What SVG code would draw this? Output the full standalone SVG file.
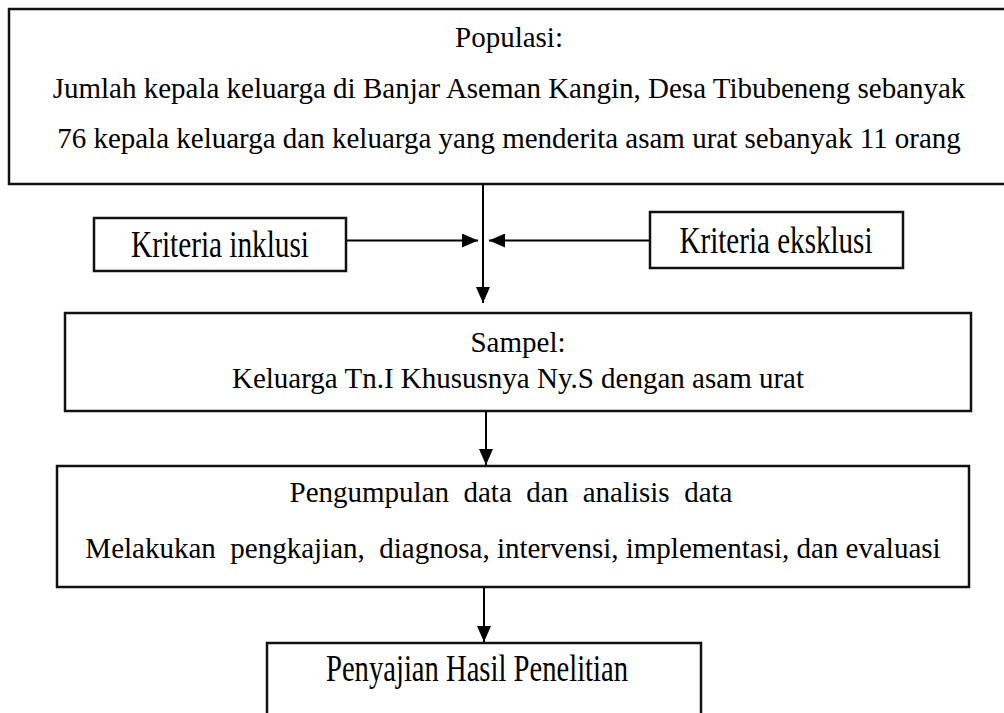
<svg xmlns="http://www.w3.org/2000/svg" width="1004" height="713" viewBox="0 0 1004 713">
  <style>
    .box { fill: #ffffff; stroke: #111111; stroke-width: 2.5; }
    .t { font-family: "Liberation Serif", "Times New Roman", serif; font-size: 29px; fill: #000000; text-anchor: middle; }
    .tc { font-family: "Liberation Serif", "Times New Roman", serif; font-size: 37px; fill: #000000; text-anchor: middle; }
    .conn { stroke: #000000; stroke-width: 2; fill: none; marker-end: url(#arrow); }
  </style>
  <defs>
    <marker id="arrow" markerUnits="userSpaceOnUse" markerWidth="16" markerHeight="14" refX="16" refY="7" orient="auto">
      <path d="M0,0 L16,7 L0,14 Z" fill="#000000"/>
    </marker>
  </defs>
  <rect x="0" y="0" width="1004" height="713" fill="#ffffff"/>

  <g id="connectors">
    <line class="conn" x1="483" y1="185" x2="483" y2="303"/>
    <line class="conn" x1="346" y1="240.5" x2="478" y2="240.5"/>
    <line class="conn" x1="650" y1="240.5" x2="489" y2="240.5"/>
    <line class="conn" x1="486" y1="412" x2="486" y2="465"/>
    <line class="conn" x1="484" y1="588" x2="484" y2="642"/>
  </g>

  <g id="populasi">
    <rect class="box" x="9" y="9" width="1005" height="175"/>
    <text class="t" x="509" y="47">Populasi:</text>
    <text class="t" x="509" y="98">Jumlah kepala keluarga di Banjar Aseman Kangin, Desa Tibubeneng sebanyak</text>
    <text class="t" x="509" y="148">76 kepala keluarga dan keluarga yang menderita asam urat sebanyak 11 orang</text>
  </g>

  <g id="kriteria-inklusi">
    <rect class="box" x="94" y="218" width="252" height="53"/>
    <text class="tc" x="220" y="257" textLength="178" lengthAdjust="spacingAndGlyphs">Kriteria inklusi</text>
  </g>

  <g id="kriteria-eksklusi">
    <rect class="box" x="650" y="212" width="253" height="56"/>
    <text class="tc" x="776" y="253" textLength="193" lengthAdjust="spacingAndGlyphs">Kriteria eksklusi</text>
  </g>

  <g id="sampel">
    <rect class="box" x="65" y="313" width="906" height="98"/>
    <text class="t" x="518" y="352">Sampel:</text>
    <text class="t" x="518" y="388">Keluarga Tn.I Khususnya Ny.S dengan asam urat</text>
  </g>

  <g id="pengumpulan">
    <rect class="box" x="57" y="466" width="912" height="121"/>
    <text class="t" x="511" y="502" xml:space="preserve">Pengumpulan  data  dan  analisis  data</text>
    <text class="t" x="513" y="558" xml:space="preserve">Melakukan  pengkajian,  diagnosa, intervensi, implementasi, dan evaluasi</text>
  </g>

  <g id="penyajian">
    <rect class="box" x="267" y="643" width="434" height="100"/>
    <text class="tc" x="477" y="681" textLength="302" lengthAdjust="spacingAndGlyphs">Penyajian Hasil Penelitian</text>
  </g>
</svg>
